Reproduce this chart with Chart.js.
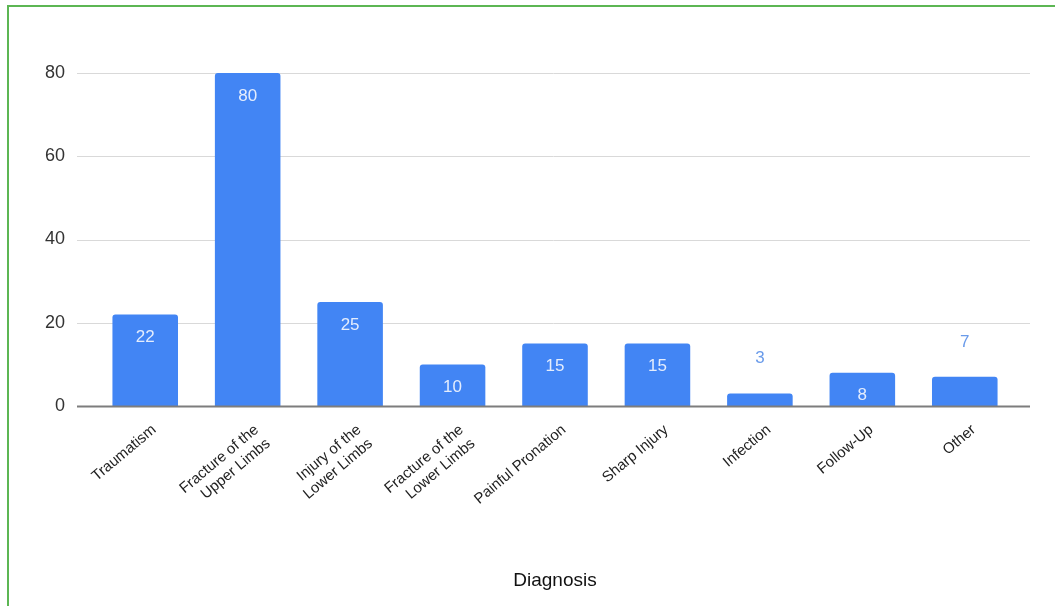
<!DOCTYPE html>
<html>
<head>
<meta charset="utf-8">
<script src="https://cdn.jsdelivr.net/npm/chart.js@4.4.1/dist/chart.umd.min.js"></script>
<style>
  html, body { margin: 0; padding: 0; background: #fff; }
  #wrap { position: relative; width: 1055px; height: 606px; overflow: hidden; }
  #frame { position: absolute; left: 7px; top: 5px; right: -10px; bottom: -10px;
           border-top: 2px solid #5cb653; border-left: 2px solid #5cb653; pointer-events: none; }
  canvas { position: absolute; left: 0; top: 0; }
</style>
</head>
<body>
<div id="wrap">
  <canvas id="chart" width="1055" height="606"></canvas>
  <div id="frame"></div>
</div>
<script>
// Diagnoses and the number of cases for each
const categories = [
  "Traumatism",
  ["Fracture of the", "Upper Limbs"],
  ["Injury of the", "Lower Limbs"],
  ["Fracture of the", "Lower Limbs"],
  "Painful Pronation",
  "Sharp Injury",
  "Infection",
  "Follow-Up",
  "Other"
];
const cases = [22, 80, 25, 10, 15, 15, 3, 8, 7];
const yTicks = [0, 20, 40, 60, 80];
const xTitle = "Diagnosis";

const FONT = "Arial, 'Liberation Sans', sans-serif";
const BAR = "#4285f4";

// Horizontal grid lines, running a little past the plot on both sides
const gridPlugin = {
  id: "wideGrid",
  beforeDatasetsDraw(chart) {
    const { ctx, chartArea, scales } = chart;
    const x0 = chartArea.left - 17, x1 = chartArea.right + 14;
    ctx.save();
    yTicks.forEach(v => {
      if (v === 0) return;
      const y = Math.round(scales.y.getPixelForValue(v)) + 0.5;
      ctx.beginPath();
      ctx.strokeStyle = "#d9d9d9";
      ctx.lineWidth = 1;
      ctx.moveTo(x0, y);
      ctx.lineTo(x1, y);
      ctx.stroke();
    });
    ctx.restore();
  },
  afterDatasetsDraw(chart) {
    // baseline drawn over the bars' bottoms
    const { ctx, chartArea, scales } = chart;
    const y = Math.round(scales.y.getPixelForValue(0)) + 0.5;
    ctx.save();
    ctx.beginPath();
    ctx.strokeStyle = "#7d7d7d";
    ctx.lineWidth = 2;
    ctx.moveTo(chartArea.left - 17, y);
    ctx.lineTo(chartArea.right + 14, y);
    ctx.stroke();
    ctx.restore();
  }
};

// Value labels: inside the top of tall bars, above short ones
const valueLabels = {
  id: "valueLabels",
  afterDatasetsDraw(chart) {
    const { ctx } = chart;
    const meta = chart.getDatasetMeta(0);
    ctx.save();
    ctx.font = "17px " + FONT;
    ctx.textAlign = "center";
    ctx.textBaseline = "middle";
    meta.data.forEach((bar, i) => {
      const v = cases[i];
      const h = bar.base - bar.y;
      if (h >= 32) {
        ctx.fillStyle = "#e4edfd";
        ctx.fillText(String(v), bar.x, bar.y + 23);
      } else {
        ctx.fillStyle = "#6a9bea";
        ctx.fillText(String(v), bar.x, bar.y - 35);
      }
    });
    ctx.restore();
  }
};

new Chart(document.getElementById("chart"), {
  type: "bar",
  data: {
    labels: categories,
    datasets: [{
      data: cases,
      backgroundColor: BAR,
      borderRadius: { topLeft: 3, topRight: 3, bottomLeft: 0, bottomRight: 0 },
      borderSkipped: "bottom",
      barPercentage: 0.64,
      categoryPercentage: 1
    }]
  },
  options: {
    responsive: false,
    animation: false,
    devicePixelRatio: 1,
    layout: { padding: { top: 73, right: 39, bottom: 10, left: 0 } },
    plugins: { legend: { display: false }, tooltip: { enabled: false } },
    scales: {
      x: {
        grid: { display: false, drawTicks: false },
        border: { display: false },
        ticks: {
          autoSkip: false,
          minRotation: 40,
          maxRotation: 40,
          padding: 15,
          labelOffset: 9,
          color: "#222",
          font: { family: FONT, size: 15 }
        },
        title: {
          display: true,
          text: xTitle,
          color: "#111",
          font: { family: FONT, size: 19 },
          padding: { top: 4, bottom: 4 }
        },
        afterFit(scale) { scale.height = 190; }
      },
      y: {
        min: 0,
        max: 80,
        grid: { display: false, drawTicks: false },
        border: { display: false },
        ticks: {
          stepSize: 20,
          padding: 29,
          color: "#333",
          font: { family: FONT, size: 18 }
        },
        afterFit(scale) { scale.width = 94; }
      }
    }
  },
  plugins: [gridPlugin, valueLabels]
});
</script>
</body>
</html>
